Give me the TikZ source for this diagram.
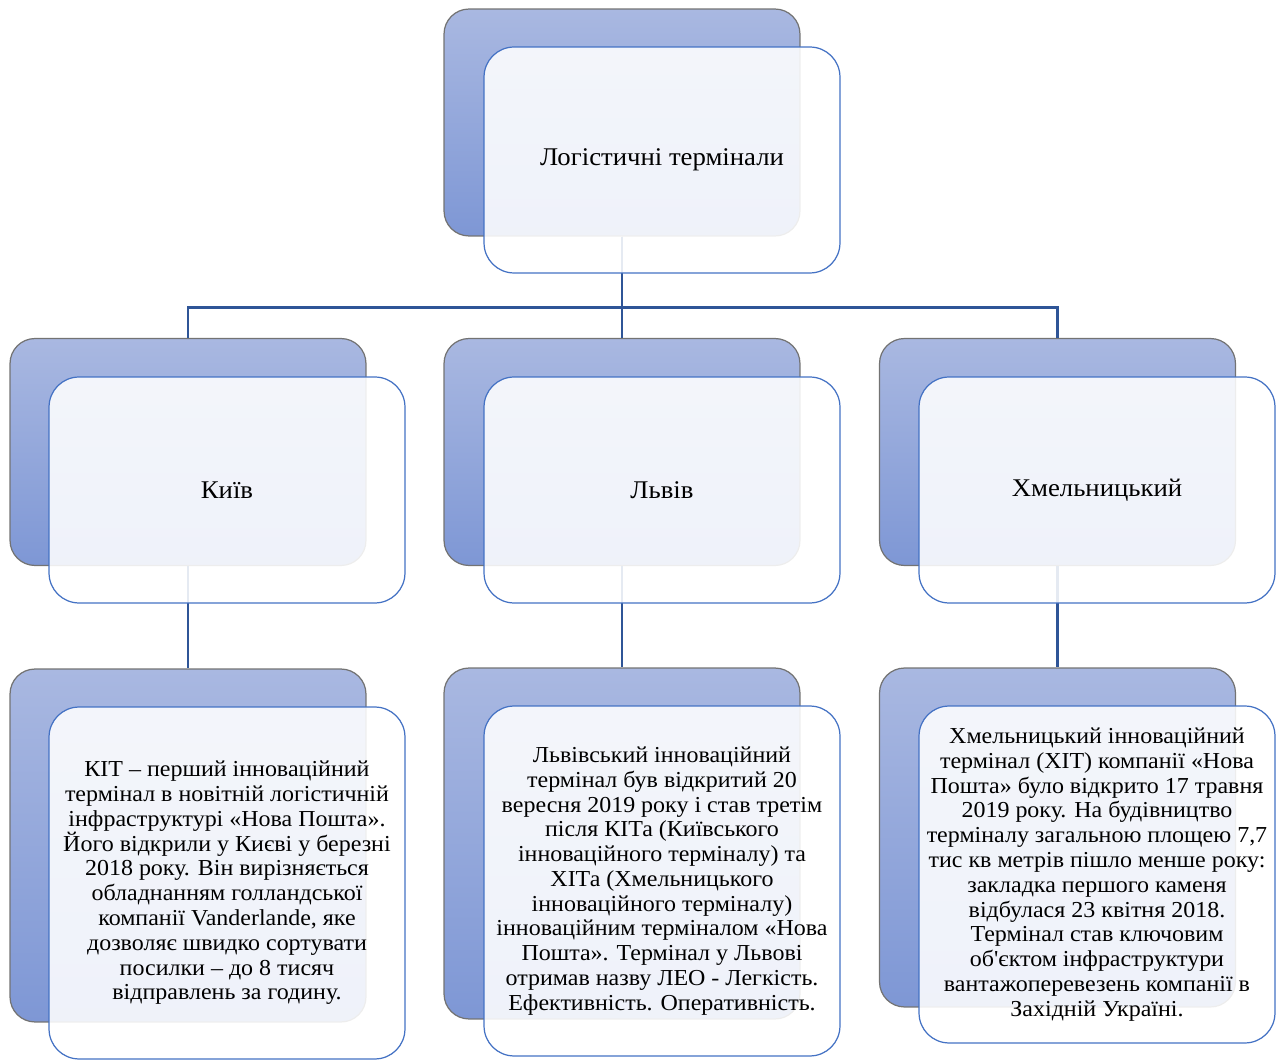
\documentclass[tikz,border=0pt]{standalone}
\usepackage{fontspec}
\setmainfont[FakeStretch=1.05,Ligatures=TeXOff]{Liberation Serif}
\usetikzlibrary{positioning}
\definecolor{backtop}{HTML}{A9B8E1}
\definecolor{backbot}{HTML}{7E97D5}
\definecolor{frameblue}{HTML}{4472C4}
\definecolor{lineblue}{HTML}{2F5597}
\tikzstyle{back} = [rounded corners=0.5cm,draw=black!55,line width=0.7pt,top color=backtop,bottom color=backbot,minimum width=7.12cm,minimum height=4.54cm]
\tikzstyle{front} = [rounded corners=0.6cm,draw=frameblue,line width=0.7pt,fill=white,fill opacity=0.88,text opacity=1,minimum width=7.12cm,minimum height=4.52cm,align=center,font=\fontsize{14.5}{16}\selectfont]
\tikzstyle{info} = [font=\fontsize{13}{14.1}\selectfont]
\tikzstyle{conn} = [line width=1.6pt,draw=lineblue]

\begin{document}
\begin{tikzpicture}[x=0.02cm,y=-0.02cm]
        \useasboundingbox (0,0) rectangle (1279,1060);
        % back boxes
        \node (rootb) [back] at (622,122.5) {};
        \node (kyivb) [back] at (188,452) {};
        \node (lvivb) [back] at (622,452) {};
        \node (khmb) [back] at (1057.5,452) {};
        \node (kyivtb) [back,minimum height=7.06cm] at (188,845.5) {};
        \node (lvivtb) [back,minimum height=7.02cm] at (622,843.5) {};
        \node (khmtb) [back,minimum height=6.78cm] at (1057.5,837.5) {};

        % connectors
        \draw[conn] (rootb.south) -- ++(0,71) -| (kyivb.north);
        \draw[conn] (rootb.south) -- (lvivb.north);
        \draw[conn] (rootb.south) -- ++(0,71) -| (khmb.north);
        \draw[conn] (kyivb.south) -- (kyivtb.north);
        \draw[conn] (lvivb.south) -- (lvivtb.north);
        \draw[conn] (khmb.south) -- (khmtb.north);

        % front boxes
        \node (root) [front] at (662,160) {Логістичні термінали};
        \node (kyiv) [front] at (227,490) {Київ};
        \node (lviv) [front] at (662,490) {Львів};
        \node (khm) [front] at (1097,490) {Хмельницький};
        \node (kyivt) [front,info,minimum height=7.04cm] at (227,883) {КІТ – перший інноваційний\\термінал в новітній логістичній\\інфраструктурі «Нова Пошта».\\Його відкрили у Києві у березні\\2018 року. Він вирізняється\\обладнанням голландської\\компанії Vanderlande, яке\\дозволяє швидко сортувати\\посилки – до 8 тисяч\\відправлень за годину.};
        \node (lvivt) [front,info,minimum height=7.0cm] at (662,881) {Львівський інноваційний\\термінал був відкритий 20\\вересня 2019 року і став третім\\після КІТа (Київського\\інноваційного терміналу) та\\ХІТа (Хмельницького\\інноваційного терміналу)\\інноваційним терміналом «Нова\\Пошта». Термінал у Львові\\отримав назву ЛЕО - Легкість.\\Ефективність. Оперативність.};
        \node (khmt) [front,info,minimum height=6.74cm] at (1097,874.5) {Хмельницький інноваційний\\термінал (ХІТ) компанії «Нова\\Пошта» було відкрито 17 травня\\2019 року. На будівництво\\терміналу загальною площею 7,7\\тис кв метрів пішло менше року:\\закладка першого каменя\\відбулася 23 квітня 2018.\\Термінал став ключовим\\об'єктом інфраструктури\\вантажоперевезень компанії в\\Західній Україні.};
\end{tikzpicture}
\end{document}
